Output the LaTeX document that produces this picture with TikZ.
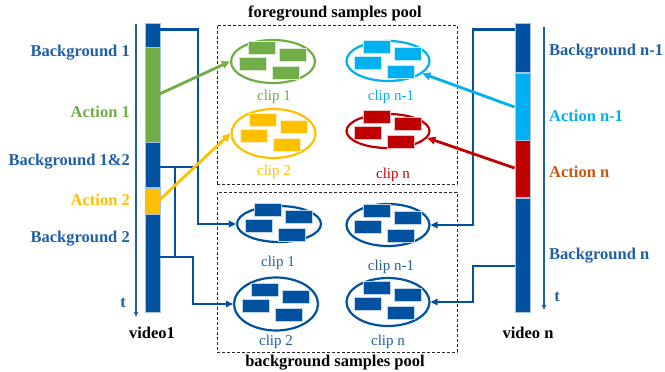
\documentclass[tikz,border=0pt]{standalone}
\usepackage{fontspec}
\setmainfont{Liberation Serif}
\usetikzlibrary{shapes.geometric,arrows.meta,positioning}

\definecolor{vblue}{RGB}{0,82,160}
\definecolor{tblue}{RGB}{31,95,168}
\definecolor{actgreen}{RGB}{112,173,71}
\definecolor{actyellow}{RGB}{255,192,0}
\definecolor{actcyan}{RGB}{0,176,240}
\definecolor{actred}{RGB}{192,0,0}
\definecolor{actorange}{RGB}{197,90,17}

\tikzset{
  seg/.style={rectangle,inner sep=0,minimum width=15,anchor=north west,draw=white!65!vblue,line width=0.6},
  side/.style={font=\bfseries\fontsize{16.5}{18}\selectfont,inner sep=1},
  cliptxt/.style={font=\fontsize{15}{17}\selectfont,inner sep=1},
  pooltxt/.style={font=\bfseries\fontsize{16.5}{18}\selectfont,inner sep=1},
  poolbox/.style={draw=black!85,dash pattern=on 3pt off 2pt,line width=0.8,inner sep=0},
  blob/.style={ellipse,draw,line width=2.2,inner sep=0},
  bgline/.style={draw=vblue,line width=2.4,-{Triangle[length=7,width=6.5]}},
  actline/.style={line width=2.8,-{Triangle[length=8,width=7.5]}},
  timeline/.style={draw=tblue,line width=1.2,-{Triangle[length=5,width=4]}}
}

\begin{document}
\begin{tikzpicture}[x=1pt,y=-1pt]
\useasboundingbox (0,0) rectangle (665,372);

% pools
\node[poolbox,minimum width=240,minimum height=159] (fgpool) at (337,104.5) {};
\node[poolbox,minimum width=240,minimum height=160] (bgpool) at (337,272) {};
\node[pooltxt] (fgtitle) at (335,14) {foreground samples pool};
\node[pooltxt] (bgtitle) at (335,363) {background samples pool};

% clips
\foreach \nm/\pos/\w/\h/\col in {fg1/{273,61.5}/84/43/actgreen, fgn1/{388,61}/83/40/actcyan,
    fg2/{273.5,133.5}/84/49/actyellow, fgn/{388,131}/83/34/actred,
    bg1/{279,224}/84/36/vblue, bgn1/{388,225}/83/42/vblue,
    bg2/{276,304}/84/53/vblue, bgn/{388,302}/83/48/vblue}{
  \node[blob,draw=\col,minimum width=\w,minimum height=\h] (\nm) at (\pos) {};
  \foreach \dx/\dy in {-11/-14, 20/-7, -20/2, 13/11}
    \filldraw[fill=\col,draw=white!75!\col,line width=0.5]
      ([shift={(\dx-13.5,\dy-6.5)}]\nm.center) rectangle ++(27,13);
}

\node[cliptxt,text=actgreen] (fg1txt) at (274,97) {clip 1};
\node[cliptxt,text=actcyan] (fgn1txt) at (391,97) {clip n-1};
\node[cliptxt,text=actyellow] (fg2txt) at (274,172) {clip 2};
\node[cliptxt,text=actred] (fgntxt) at (393,175) {clip n};
\node[cliptxt,text=tblue] (bg1txt) at (278,263) {clip 1};
\node[cliptxt,text=tblue] (bgn1txt) at (391,267) {clip n-1};
\node[cliptxt,text=tblue] (bg2txt) at (276,342) {clip 2};
\node[cliptxt,text=tblue] (bgntxt) at (388,342) {clip n};

% video 1
\node[seg,fill=vblue,minimum height=23.4] (bgA) at (144.5,23.3) {};
\node[seg,fill=actgreen,minimum height=94.3,below=0pt of bgA] (act1) {};
\node[seg,fill=vblue,minimum height=45,below=0pt of act1] (bgB) {};
\node[seg,fill=actyellow,minimum height=26,below=0pt of bgB] (act2) {};
\node[seg,fill=vblue,minimum height=98,below=0pt of act2] (bgC) {};

\node[side,text=tblue,anchor=east] (lb1) at (131,53) {Background 1};
\node[side,text=actgreen,anchor=east] (la1) at (131,112) {Action 1};
\node[side,text=tblue,anchor=east] (lb12) at (131,162) {Background 1\&2};
\node[side,text=actyellow,anchor=east] (la2) at (131,200) {Action 2};
\node[side,text=tblue,anchor=east] (lb2) at (131,239) {Background 2};
\node[side,text=tblue] (tleft) at (123,303) {t};
\node[side] (vid1) at (152,333) {video1};

\coordinate (tl1) at (136,24);
\coordinate (tl2) at (136,317);
\draw[timeline] (tl1) -- (tl2);

% video n
\node[seg,fill=vblue,minimum height=49] (bgD) at (514.5,23.3) {};
\node[seg,fill=actcyan,minimum height=66.7,below=0pt of bgD] (actn1) {};
\node[seg,fill=actred,minimum height=57,below=0pt of actn1] (actn) {};
\node[seg,fill=vblue,minimum height=114,below=0pt of actn] (bgE) {};

\node[side,text=tblue,anchor=west] (rbn1) at (548,52) {Background n-1};
\node[side,text=actcyan,anchor=west] (ran1) at (548,116) {Action n-1};
\node[side,text=actorange,anchor=west] (ran) at (548,172) {Action n};
\node[side,text=tblue,anchor=west] (rbn) at (548,256) {Background n};
\node[side,text=tblue] (tright) at (557,297) {t};
\node[side] (vidn) at (528,333) {video n};

\coordinate (tr1) at (544,27);
\coordinate (tr2) at (544,310);
\draw[timeline] (tr1) -- (tr2);

% background links
\coordinate (l1) at (159.5,29.3);
\coordinate (l2) at (159.5,167);
\coordinate (l3) at (159.5,257);
\coordinate (j1) at (175,167);
\coordinate (j2) at (175,257);
\draw[bgline] (l1) -- (198,29.3) |- (bg1);
\draw[bgline,-] (l2) -- (198,167);
\draw[bgline,-] (j1) -- (j2);
\draw[bgline] (l3) -- (193,257) |- (bg2);

\coordinate (r1) at (514.5,29.3);
\coordinate (r2) at (514.5,266);
\draw[bgline] (r1) -- (473,29.3) |- (bgn1);
\draw[bgline] (r2) -- (473,266) |- (bgn);

% action links
\coordinate (a1) at (159.5,94);
\coordinate (a2) at (159.5,200);
\coordinate (an1) at (514.5,107);
\coordinate (an) at (514.5,168);
\draw[actline,actgreen] (a1) -- (fg1.west);
\draw[actline,actyellow] (a2) -- (fg2.west);
\draw[actline,actcyan] (an1) -- (fgn1);
\draw[actline,actred] (an) -- (fgn.-10);

\end{tikzpicture}
\end{document}
